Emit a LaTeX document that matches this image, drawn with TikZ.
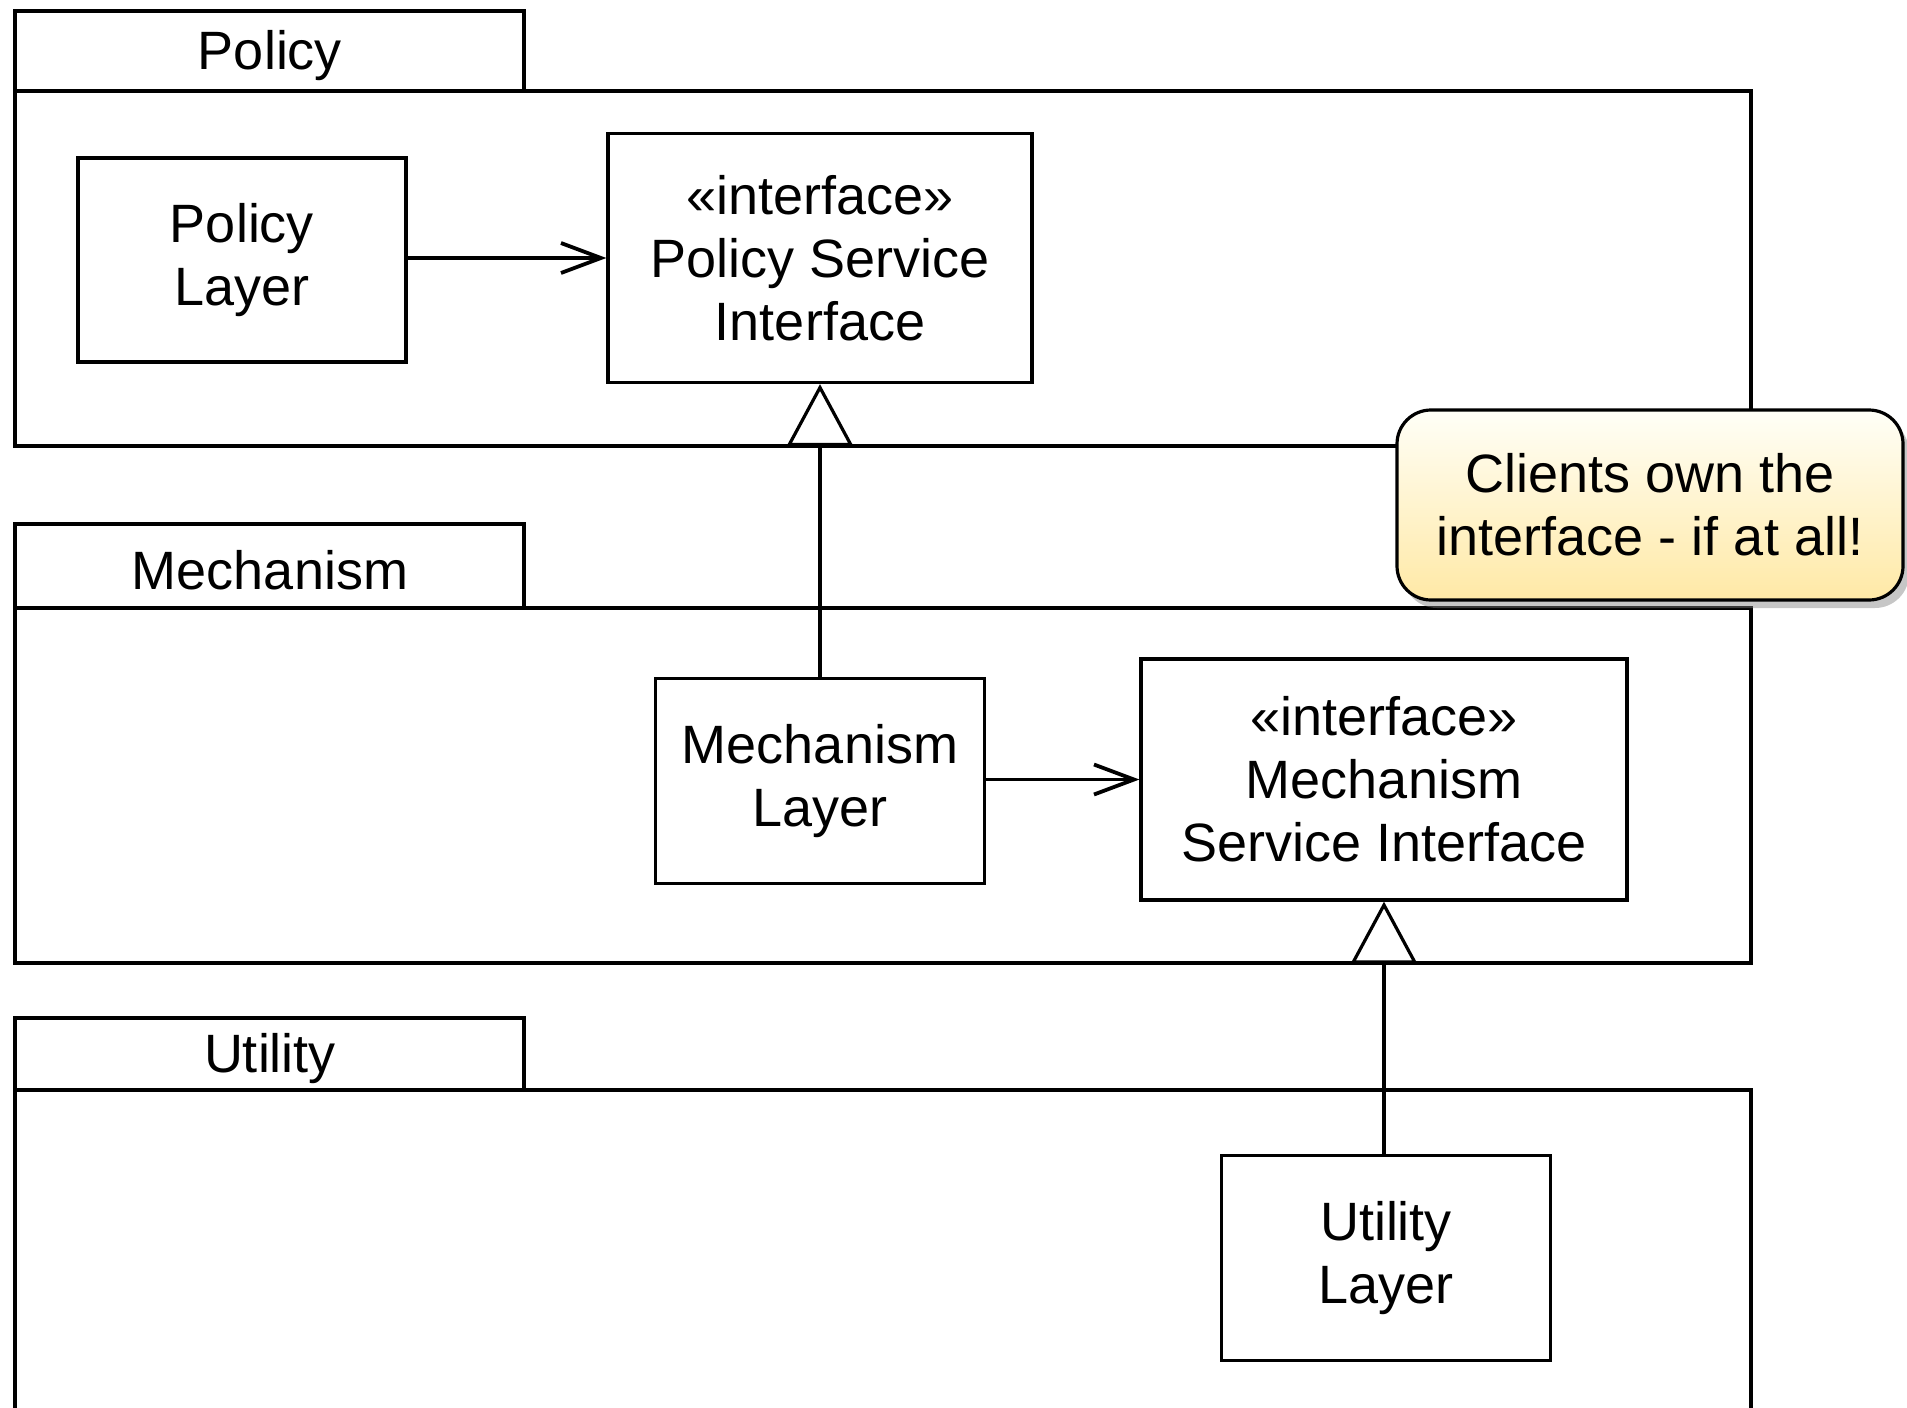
\documentclass[tikz,border=0pt]{standalone}
\usepackage{fontspec}
\setmainfont{Liberation Sans}
\usetikzlibrary{arrows.meta,shadows}

\begin{document}
\begin{tikzpicture}[x=0.5pt,y=-0.5pt,line width=1.6pt,
    every node/.style={font=\fontsize{27}{31.5}\selectfont,align=center,inner sep=0pt},
    box/.style={draw,rectangle},
    uses/.style={-{Straight Barb[length=20pt,width=15pt,line width=1.9pt]}},
    realizes/.style={-{Triangle[open,length=31pt,width=33pt,fill=white]}},
    note/.style={draw,rounded corners=17pt,top color=yellow!3,bottom color=yellow!50!orange!35!white,
      drop shadow={shadow xshift=3pt,shadow yshift=-4pt,opacity=0.45}}]
      \useasboundingbox (0,0) rectangle (1907,1408);
      \draw (15,11) rectangle (524,91);
      \node (polTab) at (270,56) {Policy};
      \draw (15,91) rectangle (1751,446);
      \draw (15,524) rectangle (524,608);
      \node (mechTab) at (270,570) {Mechanism};
      \draw (15,608) rectangle (1751,963);
      \draw (15,1018) rectangle (524,1090);
      \node (utilTab) at (270,1059) {Utility};
      \draw (15,1420) -- (15,1090) -- (1751,1090) -- (1751,1420);
      \node[box,minimum width=164pt,minimum height=102pt] (polLayer) at (242,260) {Policy\\Layer};
      \node[box,minimum width=212pt,minimum height=124.5pt] (polIface) at (820,258) {«interface»\\Policy Service\\Interface};
      \node[box,minimum width=164.5pt,minimum height=102.5pt] (mechLayer) at (820,781) {Mechanism\\Layer};
      \node[box,minimum width=243pt,minimum height=120.5pt] (mechIface) at (1384,779.5) {«interface»\\Mechanism\\Service Interface};
      \node[box,minimum width=164.5pt,minimum height=102.5pt] (utilLayer) at (1386,1258) {Utility\\Layer};
      \draw[uses] (polLayer.east |- polIface) -- (polIface);
      \draw[uses] (mechLayer.east |- mechIface) -- (mechIface);
      \draw[realizes] (mechLayer.north) -- (polIface.south);
      \draw[realizes] (utilLayer.north -| mechIface.south) -- (mechIface.south);
      \node[note,minimum width=253pt,minimum height=95pt] (hint) at (1650,505) {Clients own the\\interface - if at all!};
\end{tikzpicture}
\end{document}
